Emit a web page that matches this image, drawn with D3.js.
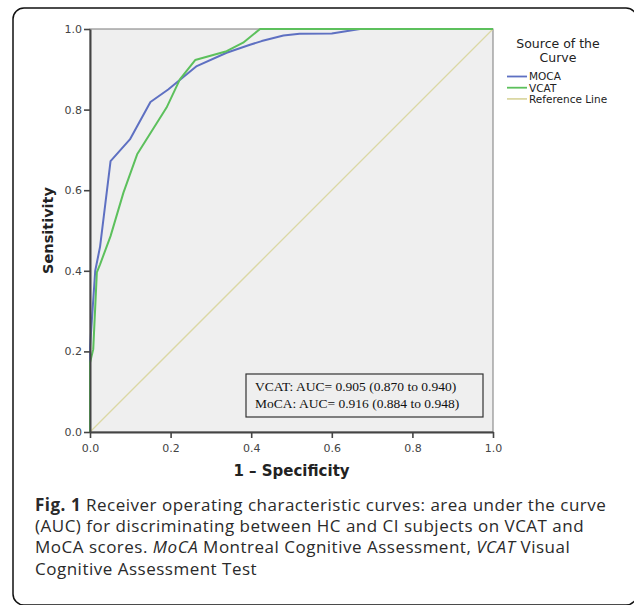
<!DOCTYPE html>
<html>
<head>
<meta charset="utf-8">
<script src="https://cdn.jsdelivr.net/npm/d3@7"></script>
<style>
  body { margin: 0; background: #fff; }
  svg { display: block; }
</style>
</head>
<body>
<div id="chart"></div>
<script>
// ROC curve points (1 - specificity, sensitivity)
var mocaFpr = [0, 0, 0.013, 0.025, 0.051, 0.099, 0.15, 0.194, 0.265, 0.339, 0.397, 0.426, 0.48, 0.52, 0.60, 0.67, 1.0];
var mocaTpr = [0, 0.21, 0.40, 0.46, 0.672, 0.726, 0.819, 0.85, 0.908, 0.941, 0.961, 0.97, 0.984, 0.988, 0.989, 1.0, 1.0];
var vcatFpr = [0, 0, 0.008, 0.017, 0.025, 0.051, 0.083, 0.117, 0.19, 0.223, 0.261, 0.339, 0.38, 0.422, 1.0];
var vcatTpr = [0, 0.172, 0.205, 0.396, 0.416, 0.486, 0.594, 0.689, 0.805, 0.875, 0.923, 0.945, 0.966, 1.0, 1.0];
var refFpr = [0, 1];
var refTpr = [0, 1];

var seriesNames = ["MOCA", "VCAT", "Reference Line"];
var tickValues = [0, 0.2, 0.4, 0.6, 0.8, 1.0];
var aucLines = ["VCAT: AUC= 0.905 (0.870 to 0.940)", "MoCA: AUC= 0.916 (0.884 to 0.948)"];

var width = 634, height = 605;
var plot = { left: 90, top: 29, right: 493, bottom: 432 };

var svg = d3.select("#chart").append("svg")
  .attr("width", width)
  .attr("height", height);

/*
 * Outer rounded frame.
 */
svg.append("rect")
  .attr("x", 13).attr("y", 8)
  .attr("width", 624).attr("height", 597)
  .attr("rx", 11)
  .attr("fill", "#fff")
  .attr("stroke", "#111")
  .attr("stroke-width", 1.5);

var x = d3.scaleLinear().domain([0, 1]).range([plot.left, plot.right]);
var y = d3.scaleLinear().domain([0, 1]).range([plot.bottom, plot.top]);

var color = d3.scaleOrdinal()
  .domain(seriesNames)
  .range(["#5e70c2", "#5cc05c", "#dbd8a4"]);

/*
 * Plot background.
 */
svg.append("rect")
  .attr("x", plot.left).attr("y", plot.top)
  .attr("width", plot.right - plot.left)
  .attr("height", plot.bottom - plot.top)
  .attr("fill", "#efefef")
  .attr("stroke", "#7a7a7a")
  .attr("stroke-width", 1);

/*
 * Curves.
 */
function zip(xs, ys) {
  return xs.map(function(v, i) { return [v, ys[i]]; });
}
var series = [
  { name: "Reference Line", pts: zip(refFpr, refTpr), w: 1.3 },
  { name: "MOCA", pts: zip(mocaFpr, mocaTpr), w: 2 },
  { name: "VCAT", pts: zip(vcatFpr, vcatTpr), w: 2 }
];
var line = d3.line()
  .x(function(d) { return x(d[0]); })
  .y(function(d) { return y(d[1]); });

svg.selectAll(".curve")
  .data(series)
  .enter().append("path")
  .attr("class", "curve")
  .attr("d", function(d) { return line(d.pts); })
  .attr("fill", "none")
  .attr("stroke", function(d) { return color(d.name); })
  .attr("stroke-width", function(d) { return d.w; })
  .attr("stroke-linejoin", "round");

/*
 * Axes.
 */
var xAxis = svg.append("g")
  .attr("transform", "translate(0," + plot.bottom + ")")
  .call(d3.axisBottom(x).tickValues(tickValues).tickFormat(d3.format(".1f")).tickSize(6).tickSizeOuter(0));
var yAxis = svg.append("g")
  .attr("transform", "translate(" + plot.left + ",0)")
  .call(d3.axisLeft(y).tickValues(tickValues).tickFormat(d3.format(".1f")).tickSize(6).tickSizeOuter(0));

[xAxis, yAxis].forEach(function(a) {
  a.select(".domain").attr("stroke", "#444").attr("stroke-width", 2);
  a.selectAll(".tick line").attr("stroke", "#444").attr("stroke-width", 1.6);
  a.selectAll(".tick text")
    .attr("fill", "#444")
    .style("font-family", "'DejaVu Sans', sans-serif")
    .style("font-size", "11px");
});
xAxis.selectAll(".tick text").attr("dy", "1em").attr("y", 9);
yAxis.selectAll(".tick text").attr("x", -8);

/*
 * Axis titles.
 */
svg.append("text")
  .attr("x", (plot.left + plot.right) / 2)
  .attr("y", 476)
  .attr("text-anchor", "middle")
  .style("font-family", "'DejaVu Sans', sans-serif")
  .style("font-weight", "bold")
  .style("font-size", "15px")
  .attr("fill", "#222")
  .text("1 \u2013 Specificity");

svg.append("text")
  .attr("transform", "translate(53," + (plot.top + plot.bottom) / 2 + ") rotate(-90)")
  .attr("text-anchor", "middle")
  .style("font-family", "'DejaVu Sans', sans-serif")
  .style("font-weight", "bold")
  .style("font-size", "14.5px")
  .attr("fill", "#222")
  .text("Sensitivity");

/*
 * AUC annotation box.
 */
svg.append("rect")
  .attr("x", 246).attr("y", 374)
  .attr("width", 237).attr("height", 43)
  .attr("fill", "#efefef")
  .attr("stroke", "#333")
  .attr("stroke-width", 1.2);
svg.selectAll(".auc")
  .data(aucLines)
  .enter().append("text")
  .attr("class", "auc")
  .attr("x", 255)
  .attr("y", function(d, i) { return 391 + i * 16.5; })
  .style("font-family", "'Liberation Serif', 'Times New Roman', serif")
  .style("font-size", "13.5px")
  .attr("fill", "#111")
  .text(function(d) { return d; });

/*
 * Legend.
 */
var legend = svg.append("g").style("font-family", "'DejaVu Sans', sans-serif");
legend.append("text")
  .attr("x", 558).attr("y", 48)
  .attr("text-anchor", "middle")
  .style("font-size", "12.5px")
  .attr("fill", "#222")
  .text("Source of the");
legend.append("text")
  .attr("x", 558).attr("y", 62)
  .attr("text-anchor", "middle")
  .style("font-size", "12.5px")
  .attr("fill", "#222")
  .text("Curve");
var item = legend.selectAll(".item")
  .data(seriesNames)
  .enter().append("g")
  .attr("class", "item")
  .attr("transform", function(d, i) { return "translate(0," + (76.5 + i * 11.2) + ")"; });
item.append("line")
  .attr("x1", 507).attr("x2", 527)
  .attr("stroke", function(d) { return color(d); })
  .attr("stroke-width", 1.8);
item.append("text")
  .attr("x", 529).attr("y", 3.8)
  .style("font-size", "10.5px")
  .attr("fill", "#222")
  .text(function(d) { return d; });

/*
 * Caption.
 */
var caption = svg.append("text")
  .style("font-family", "'Open Sans', sans-serif")
  .style("font-size", "17px")
  .style("letter-spacing", "0.5px")
  .attr("fill", "#2a2a2a");
var capLines = [
  [["Fig. 1", "bold"], [" Receiver operating characteristic curves: area under the curve", ""]],
  [["(AUC) for discriminating between HC and CI subjects on VCAT and", ""]],
  [["MoCA scores. ", ""], ["MoCA", "italic"], [" Montreal Cognitive Assessment, ", ""], ["VCAT", "italic"], [" Visual", ""]],
  [["Cognitive Assessment Test", ""]]
];
capLines.forEach(function(parts, i) {
  parts.forEach(function(p, j) {
    var t = caption.append("tspan").text(p[0]);
    if (j === 0) t.attr("x", 35).attr("y", 511 + i * 21.2);
    if (p[1] === "bold") t.style("font-weight", "bold");
    if (p[1] === "italic") t.style("font-style", "italic");
  });
});
</script>
</body>
</html>
